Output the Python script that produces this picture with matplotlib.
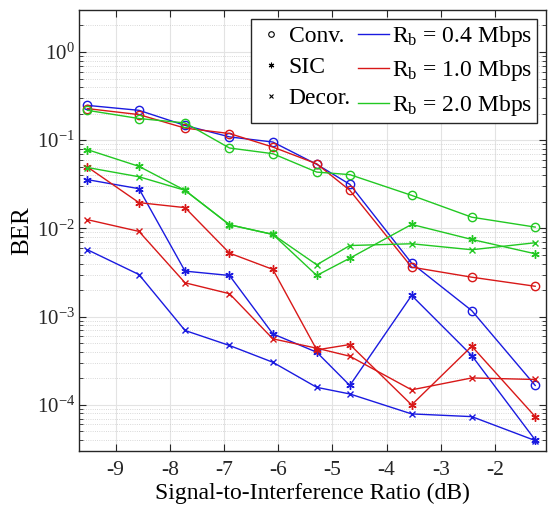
import numpy as np
import matplotlib.pyplot as plt
from matplotlib.lines import Line2D
from matplotlib.ticker import LogLocator, NullFormatter

plt.rcParams['font.family'] = ['Liberation Serif', 'DejaVu Serif']
plt.rcParams['mathtext.fontset'] = 'custom'
plt.rcParams['mathtext.rm'] = 'Liberation Serif'
plt.rcParams['mathtext.it'] = 'Liberation Serif:italic'
plt.rcParams['axes.unicode_minus'] = False

# SIR values (dB)
sir = [-9.52, -8.57, -7.72, -6.90, -6.10, -5.29, -4.68, -3.54, -2.43, -1.26]

# BER, conventional receiver
conv_04 = [0.248, 0.218, 0.147, 0.109, 0.0953, 0.0532, 0.0316, 0.00404, 0.00117, 1.66e-4]
conv_10 = [0.228, 0.195, 0.137, 0.119, 0.0836, 0.054, 0.027, 0.00364, 0.0028, 0.00221]
conv_20 = [0.218, 0.176, 0.157, 0.0815, 0.0703, 0.0435, 0.0407, 0.0237, 0.0134, 0.01035]

# BER, SIC receiver
sic_04 = [0.0357, 0.0282, 0.00328, 0.00293, 6.38e-4, 3.95e-4, 1.66e-4, 1.74e-3, 3.62e-4, 4.0e-5]
sic_10 = [0.0496, 0.0196, 0.0172, 0.00525, 0.00343, 4.2e-4, 4.83e-4, 1.0e-4, 4.62e-4, 7.36e-5]
sic_20 = [0.0781, 0.0505, 0.027, 0.011, 0.00855, 0.00293, 0.0046, 0.0111, 0.0075, 0.00516]

# BER, decorrelator
dec_04 = [0.00573, 0.0030, 6.97e-4, 4.71e-4, 3.04e-4, 1.58e-4, 1.33e-4, 7.9e-5, 7.36e-5, 3.94e-5]
dec_10 = [0.01256, 0.00925, 0.00242, 0.00182, 5.6e-4, 4.39e-4, 3.56e-4, 1.48e-4, 2.02e-4, 1.94e-4]
dec_20 = [0.049, 0.0385, 0.027, 0.011, 0.00855, 0.00387, 0.0064, 0.0067, 0.00573, 0.00688]

rates = ['0.4', '1.0', '2.0']
colors = ['#1a1ae0', '#d81818', '#22c822']
asterisk = (6, 2, 0)

fig = plt.figure(figsize=(5.51, 5.19), dpi=100)
ax = fig.add_axes([0.144, 0.131, 0.847, 0.850])

for data, c in zip([conv_04, conv_10, conv_20], colors):
    ax.plot(sir, data, color=c, lw=1.0, marker='o', ms=6, mfc='none', mew=1.0)
for data, c in zip([sic_04, sic_10, sic_20], colors):
    ax.plot(sir, data, color=c, lw=1.0, marker=asterisk, ms=6, mew=1.0)
for data, c in zip([dec_04, dec_10, dec_20], colors):
    ax.plot(sir, data, color=c, lw=1.0, marker='x', ms=5, mew=1.0)

ax.set_yscale('log')
ax.set_xlim(-9.67, -1.06)
ax.set_ylim(3e-5, 3)
ax.set_xticks(range(-9, -1))
ax.set_xticklabels([str(v) for v in range(-9, -1)])
ax.yaxis.set_major_locator(LogLocator(base=10, numticks=10))
ax.yaxis.set_minor_locator(LogLocator(base=10, subs=np.arange(2, 10), numticks=20))
ax.yaxis.set_minor_formatter(NullFormatter())

ax.grid(True, which='major', color='#e3e3e3', lw=0.8, ls='-')
ax.grid(True, which='minor', axis='y', color='#cccccc', lw=0.6, ls=':')
ax.set_axisbelow(True)

ax.tick_params(which='both', direction='in', top=True, right=True, colors='#262626')
ax.tick_params(axis='x', labelsize=15.5, pad=7)
ax.tick_params(axis='y', labelsize=15, pad=3)
ax.tick_params(which='major', length=5)
ax.tick_params(which='minor', length=3)
for s in ax.spines.values():
    s.set_color('#262626')
    s.set_linewidth(1.0)

ax.set_xlabel('Signal-to-Interference Ratio (dB)', fontsize=17, labelpad=2)
ax.set_ylabel('BER', fontsize=18)
ax.yaxis.set_label_coords(-0.098, 0.5)

handles = [
    Line2D([], [], color='k', ls='none', marker='o', ms=4, mfc='none', mew=0.8),
    Line2D([], [], color='k', ls='none', marker=asterisk, ms=4, mew=0.8),
    Line2D([], [], color='k', ls='none', marker='x', ms=3.5, mew=0.8),
]
labels = ['Conv.', 'SIC', 'Decor.']
for r, c in zip(rates, colors):
    handles.append(Line2D([], [], color=c, lw=1.0))
    labels.append('R$_\\mathrm{b}$ = ' + r + ' Mbps')

leg = ax.legend(handles, labels, ncol=2, loc='upper right', fontsize=17,
                handlelength=1.3, handletextpad=0.12, columnspacing=0.3,
                labelspacing=0.4, borderpad=0.2, borderaxespad=0.4,
                fancybox=False, framealpha=1, edgecolor='#262626')
leg.get_frame().set_linewidth(1.0)

fig.savefig('out.png', dpi=100)
